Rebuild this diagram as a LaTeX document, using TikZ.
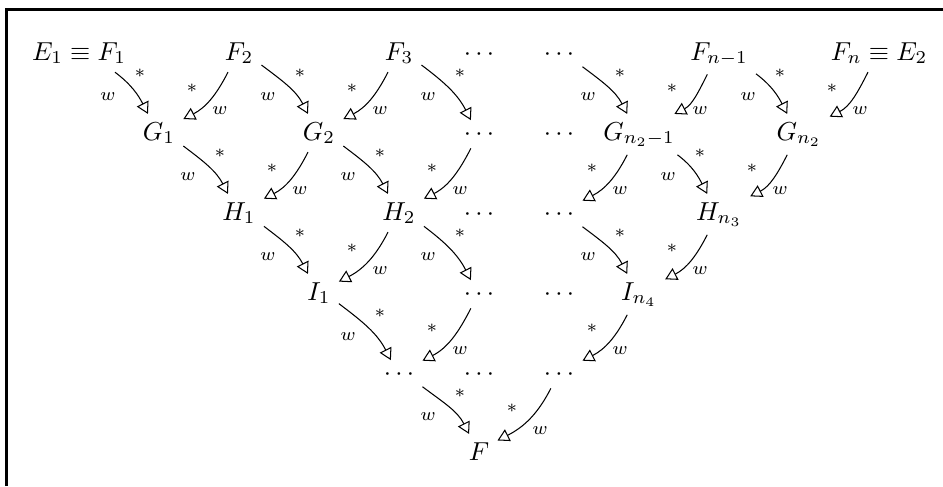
\documentclass[tikz,border=0pt]{standalone}
\usetikzlibrary{arrows.meta}
\begin{document}
\begin{tikzpicture}[x=0.385pt,y=0.385pt,
  ent/.style={anchor=base,inner sep=3pt},
  arr/.style={-{Triangle[open,length=4.5pt,width=5pt]},line width=0.4pt},
  lab/.style={inner sep=0pt}]
\useasboundingbox (0,0) rectangle (943,-486);
\draw[line width=1.05pt] (6.3,-486) -- (6.3,-9.7) -- (943,-9.7);
% entries: column c at x=79+80c, baseline of row r at y=-(60+80r)
\foreach \c/\r/\t in {0/0/{E_1 \equiv F_1},2/0/{F_2},4/0/{F_3},5/0/{\cdots},6/0/{\cdots},
  8/0/{F_{n-1}},10/0/{F_n \equiv E_2},
  1/1/{G_1},3/1/{G_2},5/1/{\cdots},6/1/{\cdots},7/1/{G_{n_2-1}},9/1/{G_{n_2}},
  2/2/{H_1},4/2/{H_2},5/2/{\cdots},6/2/{\cdots},8/2/{H_{n_3}},
  3/3/{I_1},5/3/{\cdots},6/3/{\cdots},7/3/{I_{n_4}},
  4/4/{\cdots},5/4/{\cdots},6/4/{\cdots},
  5/5/{F}}
  {\node[ent] (n\c-\r) at ({79+80*\c},{-60-80*\r}) {$\t$};}
% arrows going down to the right
\foreach \c/\r in {0/0,2/0,4/0,6/0,8/0,1/1,3/1,7/1,2/2,4/2,6/2,3/3,4/4}{
  \pgfmathtruncatemacro\cc{\c+1}\pgfmathtruncatemacro\rr{\r+1}
  \draw[arr] (n\c-\r.-28) to[out=-37,in=117] (n\cc-\rr.120);
  \node[lab] (s\c-\r r) at ({79+80*\c+40+21},{-50-80*\r-40+17}) {$\scriptstyle *$};
  \node[lab] (w\c-\r r) at ({79+80*\c+40-11},{-50-80*\r-40-7}) {$\scriptstyle w$};
}
% arrows going down to the left
\foreach \c/\r in {2/0,4/0,8/0,10/0,3/1,5/1,7/1,9/1,4/2,8/2,5/3,7/3,6/4}{
  \pgfmathtruncatemacro\cc{\c-1}\pgfmathtruncatemacro\rr{\r+1}
  \draw[arr] (n\c-\r.-120) to[out=-117,in=27] (n\cc-\rr.30);
  \node[lab] (s\c-\r l) at ({79+80*\c-40-7},{-50-80*\r-40+2}) {$\scriptstyle *$};
  \node[lab] (w\c-\r l) at ({79+80*\c-40+21},{-50-80*\r-40-21}) {$\scriptstyle w$};
}
\end{tikzpicture}
\end{document}
